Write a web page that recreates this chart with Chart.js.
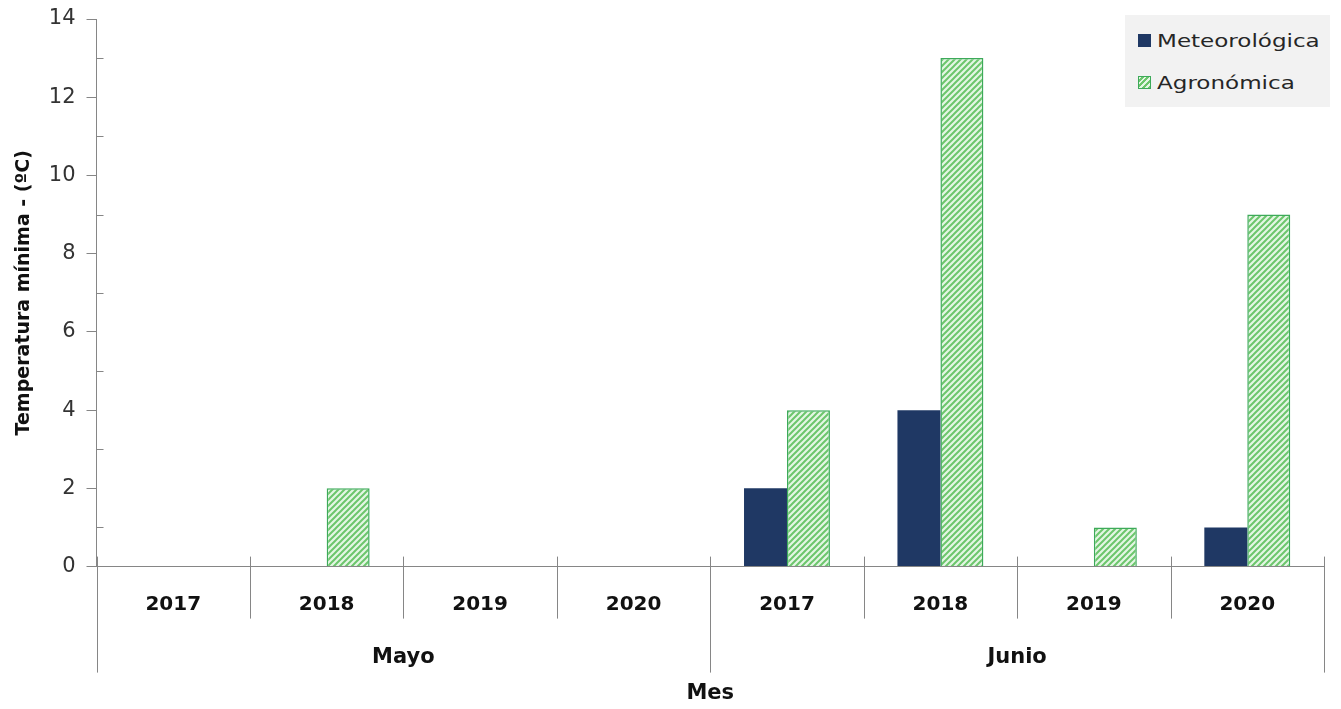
<!DOCTYPE html>
<html>
<head>
<meta charset="utf-8">
<script src="https://cdn.jsdelivr.net/npm/chart.js@4.4.1/dist/chart.umd.min.js"></script>
<style>
body{margin:0;background:#fff;}
#wrap{position:relative;width:1341px;height:709px;}
#legend{position:absolute;left:1125px;top:15px;width:205px;height:92px;background:#f2f2f2;font-family:"DejaVu Sans",sans-serif;font-size:18px;color:#262626;}
#legend div{position:absolute;left:13px;display:flex;align-items:center;}
#legend span.sw{display:inline-block;width:13px;height:13px;margin-right:6px;box-sizing:border-box;}
#legend span.tx{display:inline-block;transform:scaleX(1.28);transform-origin:left center;}
</style>
</head>
<body>
<div id="wrap">
<canvas id="c" width="1341" height="709"></canvas>
<div id="legend"></div>
</div>
<script>
const years = ['2017','2018','2019','2020','2017','2018','2019','2020']
const months = ['Mayo','Junio']
const meteorologica = [0,0,0,0,2,4,0,1]
const agronomica = [0,2,0,0,4,13,1,9]
const seriesNames = ['Meteorológica','Agronómica']

const navy = '#1f3864'
const green = '#3daa5a'
const axisGray = '#868686'
const font = 'DejaVu Sans'

function makeHatch(){
const p = document.createElement('canvas')
p.width = 6; p.height = 6
const g = p.getContext('2d')
g.fillStyle = '#e4f6e4'
g.fillRect(0,0,6,6)
g.strokeStyle = '#6cc66c'
g.lineWidth = 2
g.beginPath()
g.moveTo(-1,7); g.lineTo(7,-1)
g.moveTo(-4,4); g.lineTo(4,-4)
g.moveTo(2,10); g.lineTo(10,2)
g.stroke()
return document.getElementById('c').getContext('2d').createPattern(p,'repeat')
}

const hatch = makeHatch()

// separators of the two-level category axis + minor y ticks
const axisLines = {
id:'axisLines',
afterDraw(chart){
const ctx = chart.ctx
const xs = chart.scales.x, ys = chart.scales.y
const n = years.length
const per = n / months.length
const w = xs.width / n
ctx.save()
ctx.strokeStyle = axisGray
ctx.lineWidth = 1
ctx.beginPath()
for(let i=0;i<=n;i++){
const x = Math.round(xs.left + i*w) + 0.5
const len = (i % per === 0) ? 106 : 52
ctx.moveTo(x, xs.top - 10)
ctx.lineTo(x, xs.top + len)
}
for(let v=1;v<14;v+=2){
const y = Math.round(ys.getPixelForValue(v)) + 0.5
ctx.moveTo(ys.right, y)
ctx.lineTo(ys.right + 7, y)
}
ctx.stroke()
ctx.restore()
}
}

new Chart(document.getElementById('c'),{
type:'bar',
data:{
labels:years,
datasets:[{
label:seriesNames[0],
data:meteorologica,
backgroundColor:navy,
borderWidth:0,
categoryPercentage:0.56,
barPercentage:1
},{
label:seriesNames[1],
data:agronomica,
backgroundColor:hatch,
borderColor:green,
borderWidth:1.5,
categoryPercentage:0.56,
barPercentage:1
}]
},
options:{
responsive:false,
animation:false,
devicePixelRatio:1,
layout:{padding:{left:11,top:19,right:17,bottom:3}},
plugins:{legend:{display:false},tooltip:{enabled:false}},
scales:{
x:{
grid:{display:false,drawTicks:false},
border:{color:axisGray},
ticks:{font:{family:font,size:20,weight:'bold'},color:'#111',padding:26}
},
x2:{
type:'category',
labels:months,
min:0,max:1,
offset:true,
position:'bottom',
grid:{display:false,drawTicks:false},
border:{display:false},
ticks:{font:{family:font,size:21,weight:'bold'},color:'#111',padding:2},
title:{display:true,text:'Mes',font:{family:font,size:21,weight:'bold'},color:'#111',padding:{top:9,bottom:0}}
},
y:{
min:0,max:14,
afterFit(s){ s.paddingTop = 0 },
ticks:{stepSize:2,font:{family:font,size:21},color:'#333',padding:11},
grid:{display:true,drawOnChartArea:false,tickLength:10,color:axisGray},
border:{color:axisGray},
title:{display:true,text:'Temperatura mínima - (ºC)',font:{family:font,size:19,weight:'bold'},color:'#111',padding:{top:2,bottom:2}}
}
}
},
plugins:[axisLines]
})

// legend
const leg = document.getElementById('legend')
const swatches = ['background:'+navy,'border:1px solid '+green+';background:repeating-linear-gradient(-45deg,#6cc66c 0 2px,#e4f6e4 2px 4px)']
seriesNames.forEach((name,i)=>{
const d = document.createElement('div')
d.style.top = (i===0 ? 15 : 57) + 'px'
d.innerHTML = '<span class="sw" style="'+swatches[i]+'"></span><span class="tx">'+name+'</span>'
leg.appendChild(d)
})
</script>
</body>
</html>
